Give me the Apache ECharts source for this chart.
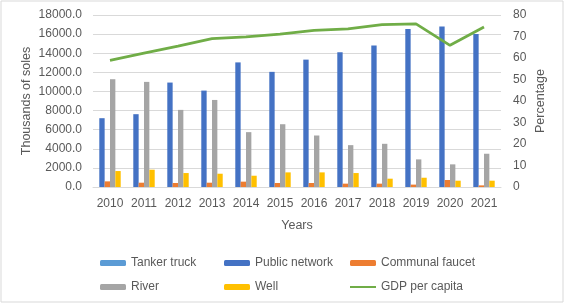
<!DOCTYPE html>
<html>
<head>
<meta charset="utf-8">
<script src="https://cdn.jsdelivr.net/npm/echarts@6/dist/echarts.min.js"></script>
<style>
  html, body { margin: 0; padding: 0; background: #fff; }
  #main { width: 565px; height: 304px; }
</style>
</head>
<body>
<div id="main"></div>
<script>
// data
var years = ['2010', '2011', '2012', '2013', '2014', '2015', '2016', '2017', '2018', '2019', '2020', '2021'];
var tankerTruck = [0, 0, 0, 0, 0, 0, 0, 0, 0, 0, 0, 0];
var publicNetwork = [7200, 7620, 10930, 10090, 13040, 12050, 13330, 14100, 14800, 16530, 16800, 16000];
var communalFaucet = [590, 450, 420, 450, 560, 420, 420, 350, 350, 250, 730, 170];
var river = [11280, 11000, 8070, 9110, 5740, 6570, 5390, 4380, 4520, 2890, 2370, 3480];
var well = [1670, 1810, 1460, 1390, 1180, 1530, 1530, 1460, 870, 970, 660, 660];
var gdpPerCapita = [58.9, 62.3, 65.5, 69.0, 69.8, 71.1, 72.8, 73.5, 75.5, 75.9, 65.9, 74.4];
var leftTicks = { min: 0, max: 18000, interval: 2000 };
var rightTicks = { min: 0, max: 80, interval: 10 };

var txt = '#595959';
var font = 'Liberation Sans';

var myChart = echarts.init(document.getElementById('main'));

// one legend per column, two rows each
function legendCol(names, left) {
  return {
    data: names,
    orient: 'vertical',
    left: left, top: 256,
    padding: 0,
    itemWidth: 26, itemHeight: 6, itemGap: 10,
    textStyle: { fontFamily: font, fontSize: 12, color: txt, lineHeight: 14 }
  };
}

var option = {
  backgroundColor: '#fff',
  animation: false,
  textStyle: { fontFamily: font, color: txt },
  graphic: [{
    type: 'rect',
    shape: { x: 1, y: 1, width: 562, height: 301 },
    style: { fill: 'none', stroke: '#d9d9d9', lineWidth: 1 },
    silent: true
  }],
  grid: { left: 93, right: 64, top: 15, bottom: 117 },
  legend: [
    legendCol(['Tanker truck', 'River'], 100),
    legendCol(['Public network', 'Well'], 224),
    legendCol(['Communal faucet', { name: 'GDP per capita', itemStyle: { opacity: 0 } }], 349)
  ],
  xAxis: {
    type: 'category',
    data: years,
    name: 'Years',
    nameLocation: 'middle',
    nameGap: 32,
    nameMoveOverlap: false,
    nameTextStyle: { fontFamily: font, fontSize: 12.5, color: txt },
    axisLine: { lineStyle: { color: '#d9d9d9' } },
    axisTick: { show: false },
    axisLabel: { fontFamily: font, fontSize: 12, color: txt, margin: 11, interval: 0 }
  },
  yAxis: [{
    type: 'value',
    min: leftTicks.min, max: leftTicks.max, interval: leftTicks.interval,
    name: 'Thousands of soles',
    nameLocation: 'middle',
    nameGap: 60,
    nameMoveOverlap: false,
    nameTextStyle: { fontFamily: font, fontSize: 12.5, color: txt },
    axisLine: { show: false },
    axisTick: { show: false },
    splitLine: { lineStyle: { color: '#d9d9d9' } },
    axisLabel: {
      fontFamily: font, fontSize: 12, color: txt, margin: 11,
      formatter: function (v) { return v.toFixed(1); }
    }
  }, {
    type: 'value',
    min: rightTicks.min, max: rightTicks.max, interval: rightTicks.interval,
    name: 'Percentage',
    nameLocation: 'middle',
    nameGap: 33,
    nameMoveOverlap: false,
    nameTextStyle: { fontFamily: font, fontSize: 12.5, color: txt },
    axisLine: { show: false },
    axisTick: { show: false },
    splitLine: { show: false },
    axisLabel: { fontFamily: font, fontSize: 12, color: txt, margin: 12 }
  }],
  series: [{
    name: 'Tanker truck', type: 'bar', stack: 'pn',
    barCategoryGap: '37%', barGap: '0%',
    itemStyle: { color: '#5B9BD5' },
    data: tankerTruck
  }, {
    name: 'Public network', type: 'bar', stack: 'pn',
    barCategoryGap: '37%', barGap: '0%',
    itemStyle: { color: '#4472C4' },
    data: publicNetwork
  }, {
    name: 'Communal faucet', type: 'bar',
    barCategoryGap: '37%', barGap: '0%',
    itemStyle: { color: '#ED7D31' },
    data: communalFaucet
  }, {
    name: 'River', type: 'bar',
    barCategoryGap: '37%', barGap: '0%',
    itemStyle: { color: '#A5A5A5' },
    data: river
  }, {
    name: 'Well', type: 'bar',
    barCategoryGap: '37%', barGap: '0%',
    itemStyle: { color: '#FFC000' },
    data: well
  }, {
    name: 'GDP per capita', type: 'line', yAxisIndex: 1,
    symbol: 'none',
    lineStyle: { color: '#70AD47', width: 2.75 },
    itemStyle: { color: '#70AD47' },
    data: gdpPerCapita
  }]
};

myChart.setOption(option);
</script>
</body>
</html>
